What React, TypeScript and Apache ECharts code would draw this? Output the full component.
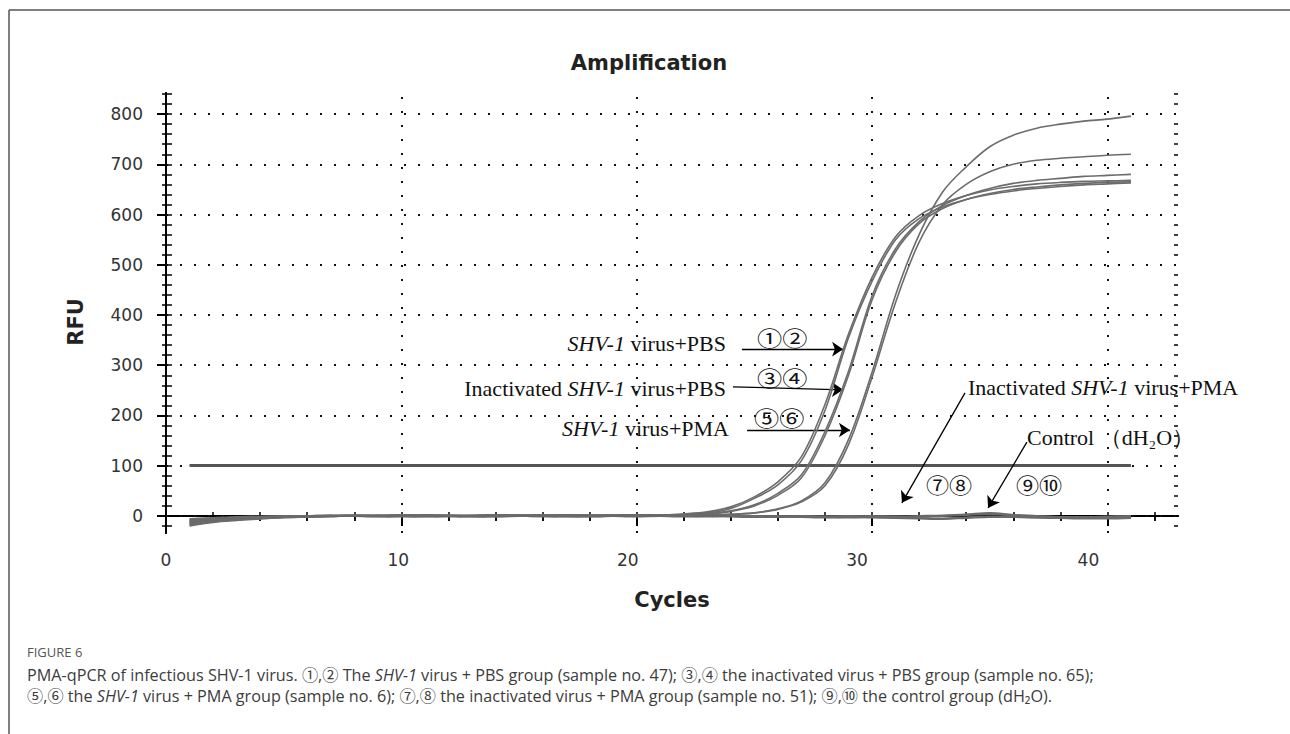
import { useEffect, useRef } from 'react';
import * as echarts from 'echarts';

// ---- data ----
const CYCLES = Array.from({ length: 41 }, (_, i) => i + 1);
const X_TICKS = [0, 10, 20, 30, 40];
const Y_TICKS = [0, 100, 200, 300, 400, 500, 600, 700, 800];
const X_MINOR = [2, 4, 6, 8, 12, 14, 16, 18, 22, 24, 26, 28, 32, 34, 36, 38, 42];
const X_ALL = [0, 2, 4, 6, 8, 10, 12, 14, 16, 18, 20, 22, 24, 26, 28, 30, 32, 34, 36, 38, 40, 42];
const Y_MINOR = [-20, 20, 40, 60, 80, 120, 140, 160, 180, 220, 240, 260, 280, 320, 340, 360, 380, 420, 440, 460, 480, 520, 540, 560, 580, 620, 640, 660, 680, 720, 740, 760, 780, 820, 840];
const Y_ALL = [-20, 0, 20, 40, 60, 80, 100, 120, 140, 160, 180, 200, 220, 240, 260, 280, 300, 320, 340, 360, 380, 400, 420, 440, 460, 480, 500, 520, 540, 560, 580, 600, 620, 640, 660, 680, 700, 720, 740, 760, 780, 800, 820, 840];
const THRESHOLD = 100;
const THRESHOLD_RANGE = [1, 41];

// amplification curves (RFU per cycle 1..41)
const S1 = [-18, -12, -8, -5, -3, -2, -1, 0, 1, 0, -1, 0, 1, 2, 0, -1, 0, 1, 2, 1, 2, 3, 6, 15, 35, 62, 110, 210, 355, 467, 550, 592, 615, 630, 640, 647, 652, 656, 659, 661, 663];
const S2 = [-14, -9, -6, -4, -2, -1, 0, 1, 0, 1, 0, -1, 0, 1, 2, 0, 1, 0, 1, 2, 2, 4, 8, 18, 38, 68, 118, 222, 362, 475, 556, 598, 622, 638, 649, 656, 661, 664, 666, 667, 668];
const S3 = [-20, -13, -9, -6, -3, -2, -1, 0, -1, 0, 1, 0, -1, 0, 1, 2, 0, -1, 0, 1, 1, 2, 4, 10, 22, 45, 82, 168, 288, 438, 532, 586, 618, 638, 652, 662, 668, 672, 676, 678, 680];
const S4 = [-10, -7, -5, -3, -2, -1, 0, 0, 1, 2, 0, 1, 0, -1, 0, 1, 2, 1, 0, 1, 2, 2, 4, 9, 20, 41, 76, 160, 280, 430, 526, 582, 612, 630, 642, 650, 655, 659, 662, 664, 665];
const S5 = [-16, -11, -7, -5, -3, -2, -1, 0, 0, 1, 0, -1, 0, 1, 0, -1, 0, 1, 1, 0, 1, 1, 2, 3, 6, 14, 30, 66, 152, 286, 440, 560, 645, 695, 735, 758, 772, 780, 786, 790, 796];
const S6 = [-12, -8, -5, -3, -2, -1, 0, 1, 0, 0, 1, 0, -1, 0, 1, 0, -1, 0, 1, 1, 0, 1, 2, 3, 6, 13, 28, 60, 142, 276, 425, 545, 620, 660, 685, 700, 708, 712, 715, 718, 720];
// non-amplifying curves
const S7 = [-15, -10, -6, -4, -2, -1, 0, 1, 0, -1, 0, 1, 0, -1, 0, 1, 0, -1, 0, 1, 0, -1, 0, -1, -2, -1, -2, -3, -2, -3, -4, -5, -6, -4, -2, -2, -3, -4, -5, -5, -4];
const S8 = [-11, -7, -5, -3, -1, 0, 1, 0, 1, 0, -1, 0, 1, 2, 1, 0, -1, 0, 1, 0, 1, 0, -1, 0, -1, -2, -1, -2, -3, -2, -3, -4, -5, -3, -1, -2, -3, -4, -4, -3, -3];
const S9 = [-8, -5, -3, -2, -1, 0, 0, 1, 0, 1, 2, 1, 0, 1, 0, 1, 2, 1, 0, 1, 0, 1, 0, 0, -1, 0, -1, -1, 0, -1, -1, 0, 1, 3, 6, 2, 0, -2, -3, -2, -1];
const S10 = [-6, -4, -2, -1, 0, 0, 1, 0, -1, 0, 1, 0, -1, 0, 1, 0, 0, 1, 0, -1, 0, 0, 1, 0, 0, -1, 0, -1, -1, 0, -1, -2, 0, 2, 4, 1, -1, -2, -2, -1, 0];
const AMP_SERIES = [S1, S2, S3, S4, S5, S6];
const FLAT_SERIES = [S7, S8, S9, S10];

// annotation arrows in data coordinates [cycle, RFU]
const ARROWS = [
  [[24.47, 332], [28.77, 332]],
  [[24.09, 257], [28.77, 251]],
  [[24.69, 171], [29.06, 171]],
  [[33.95, 245], [31.27, 26]],
  [[36.58, 147], [34.93, 16]],
];

const SERIF = "'Liberation Serif', 'DejaVu Serif', serif";
const CIRC = "'Noto Sans CJK SC', 'DejaVu Sans', sans-serif";
const SANS = "'DejaVu Sans', sans-serif";
const CAP = "'Open Sans', 'Noto Sans CJK SC', sans-serif";

function annText(x: number, y: number, text: string, align: string, font = SERIF, size = 22, scaleX = 1) {
  return {
    type: 'text',
    x,
    y,
    scaleX,
    silent: true,
    style: {
      text,
      fontFamily: font,
      fontSize: size,
      fill: '#111',
      align,
      textAlign: align,
      verticalAlign: 'middle',
      textVerticalAlign: 'middle',
      rich: {
        i: { fontStyle: 'italic', fontFamily: font, fontSize: size, fill: '#111' },
      },
    },
  };
}

function captionLine(y: number, text: string) {
  return {
    type: 'text', x: 27, y, silent: true,
    style: {
      text,
      fontFamily: CAP, fontSize: 16.2, lineHeight: 19, fill: '#3c3c3c',
      align: 'left', textAlign: 'left', verticalAlign: 'middle', textVerticalAlign: 'middle',
      rich: {
        i: { fontStyle: 'italic', fontFamily: CAP, fontSize: 16.2, lineHeight: 19, fill: '#3c3c3c' },
      },
    },
  };
}

// x tick labels sit slightly left of their ticks in the original
const X_LABEL_SHIFT: Record<string, number> = { '0': 0, '10': 3, '20': 9, '30': 15, '40': 19 };

export default function App() {
  const ref = useRef<HTMLDivElement>(null);
  useEffect(() => {
    if (!ref.current) return;
    const chart = echarts.init(ref.current, null, { renderer: 'svg' });
    const axisBlack = { color: '#000', width: 2 };
    const baseY = { type: 'value', min: -34, max: 842, splitLine: { show: false } };
    const baseX = { type: 'value', min: 0, max: 43, splitLine: { show: false } };

    const xRich: Record<string, any> = {};
    X_TICKS.forEach((v) => {
      xRich['s' + v] = {
        fontFamily: SANS,
        fontSize: 17,
        color: '#333',
        padding: [0, 2 * X_LABEL_SHIFT[String(v)], 0, 0],
      };
    });

    const series: any[] = [];
    AMP_SERIES.forEach((s, idx) => {
      series.push({
        type: 'line',
        name: 'amp' + (idx + 1),
        data: CYCLES.map((c, i) => [c, s[i]]),
        showSymbol: false,
        smooth: 0.35,
        lineStyle: { color: '#6c6c6c', width: 1.6 },
        xAxisIndex: 0,
        yAxisIndex: 0,
        z: 5,
      });
    });
    FLAT_SERIES.forEach((s, idx) => {
      series.push({
        type: 'line',
        name: 'flat' + (idx + 1),
        data: CYCLES.map((c, i) => [c, s[i]]),
        showSymbol: false,
        smooth: 0.35,
        lineStyle: { color: '#6a6a6a', width: 2 },
        xAxisIndex: 0,
        yAxisIndex: 0,
        z: 5,
      });
    });
    // grid dotted lines
    series[6].markLine = {
      silent: true,
      symbol: 'none',
      animation: false,
      label: { show: false },
      lineStyle: { type: [2, 12], color: '#111', width: 2 },
      data: [
        ...Y_TICKS.map((v) => ({ yAxis: v })),
        ...X_TICKS.filter((v) => v > 0).map((v) => ({ xAxis: v })),
      ],
      z: 1,
    };
    // threshold
    series[7].markLine = {
      silent: true,
      symbol: 'none',
      animation: false,
      label: { show: false },
      lineStyle: { type: 'solid', color: '#555', width: 3 },
      data: [[{ coord: [THRESHOLD_RANGE[0], THRESHOLD] }, { coord: [THRESHOLD_RANGE[1], THRESHOLD] }]],
    };
    // arrows
    series[8].markLine = {
      silent: true,
      symbol: ['none', 'arrow'],
      symbolSize: 11,
      animation: false,
      label: { show: false },
      lineStyle: { type: 'solid', color: '#000', width: 1.3 },
      data: ARROWS.map((a) => [{ coord: a[0] }, { coord: a[1] }]),
    };

    chart.setOption({
      animation: false,
      backgroundColor: '#fff',
      grid: { left: 166, top: 93, width: 1012, height: 440, containLabel: false },
      xAxis: [
        {
          ...baseX,
          position: 'bottom',
          axisLine: { show: true, lineStyle: axisBlack },
          axisTick: { show: true, customValues: X_TICKS, length: 10, lineStyle: axisBlack },
          axisLabel: {
            show: true,
            customValues: X_TICKS,
            margin: 18,
            formatter: (v: number) => `{s${v}|${v}}`,
            rich: xRich,
          },
        },
        {
          ...baseX,
          position: 'bottom',
          axisLine: { show: false },
          axisTick: { show: true, customValues: X_MINOR, length: 5, lineStyle: { color: '#000', width: 1.5 } },
          axisLabel: { show: false },
        },
        {
          ...baseX,
          position: 'bottom',
          axisLine: { show: false },
          axisTick: { show: true, inside: true, customValues: X_ALL, length: 4, lineStyle: { color: '#000', width: 1.5 } },
          axisLabel: { show: false },
        },
        {
          ...baseX,
          position: 'top',
          axisLine: { show: true, lineStyle: axisBlack },
          axisTick: { show: true, inside: true, customValues: X_ALL.filter((v) => v > 0), length: 5, lineStyle: { color: '#000', width: 1.5 } },
          axisLabel: { show: false },
        },
      ],
      yAxis: [
        {
          ...baseY,
          position: 'left',
          axisLine: { show: true, lineStyle: axisBlack },
          axisTick: { show: true, customValues: Y_TICKS, length: 9, lineStyle: axisBlack },
          axisLabel: { show: true, customValues: Y_TICKS, fontFamily: SANS, fontSize: 17, color: '#333', margin: 23 },
        },
        {
          ...baseY,
          position: 'left',
          axisLine: { show: false },
          axisTick: { show: true, customValues: Y_MINOR, length: 4, lineStyle: { color: '#000', width: 1.5 } },
          axisLabel: { show: false },
        },
        {
          ...baseY,
          position: 'left',
          axisLine: { show: false },
          axisTick: { show: true, inside: true, customValues: Y_ALL, length: 6, lineStyle: { color: '#000', width: 1.5 } },
          axisLabel: { show: false },
        },
        {
          ...baseY,
          position: 'right',
          axisLine: { show: true, lineStyle: axisBlack },
          axisTick: { show: true, inside: true, customValues: Y_TICKS, length: 9, lineStyle: axisBlack },
          axisLabel: { show: false },
        },
        {
          ...baseY,
          position: 'right',
          axisLine: { show: false },
          axisTick: { show: true, inside: true, customValues: Y_MINOR, length: 4, lineStyle: { color: '#000', width: 1.5 } },
          axisLabel: { show: false },
        },
      ],
      series,
      graphic: [
        // outer frame
        { type: 'line', silent: true, shape: { x1: 9, y1: 10, x2: 1290, y2: 10 }, style: { stroke: '#555', lineWidth: 1.5 } },
        { type: 'line', silent: true, shape: { x1: 9, y1: 10, x2: 9, y2: 734 }, style: { stroke: '#555', lineWidth: 1.5 } },
        // title and axis names
        {
          type: 'text', x: 649, y: 63, silent: true,
          style: { text: 'Amplification', fontFamily: SANS, fontWeight: 'bold', fontSize: 21, fill: '#222', align: 'center', textAlign: 'center', verticalAlign: 'middle', textVerticalAlign: 'middle' },
        },
        {
          type: 'text', x: 672, y: 600, silent: true,
          style: { text: 'Cycles', fontFamily: SANS, fontWeight: 'bold', fontSize: 21, fill: '#222', align: 'center', textAlign: 'center', verticalAlign: 'middle', textVerticalAlign: 'middle' },
        },
        {
          type: 'text', x: 76, y: 322, rotation: Math.PI / 2, silent: true,
          style: { text: 'RFU', fontFamily: SANS, fontWeight: 'bold', fontSize: 21, fill: '#222', align: 'center', textAlign: 'center', verticalAlign: 'middle', textVerticalAlign: 'middle' },
        },
        // annotations
        annText(726, 343, '{i|SHV-1} virus+PBS', 'right'),
        annText(726, 388, 'Inactivated {i|SHV-1} virus+PBS', 'right'),
        annText(729, 428, '{i|SHV-1} virus+PMA', 'right'),
        annText(968, 387, 'Inactivated {i|SHV-1} virus+PMA', 'left'),
        annText(1027, 437, 'Control （dH₂O）', 'left'),
        annText(757, 337, '①②', 'left', CIRC, 21, 1.2),
        annText(757, 377, '③④', 'left', CIRC, 21, 1.2),
        annText(754, 417, '⑤⑥', 'left', CIRC, 21, 1.2),
        annText(926, 483, '⑦⑧', 'left', CIRC, 21, 1.1),
        annText(1016, 483, '⑨⑩', 'left', CIRC, 21, 1.1),
        // caption
        {
          type: 'text', x: 27, y: 652, silent: true,
          style: { text: 'FIGURE 6', fontFamily: CAP, fontSize: 13, lineHeight: 16, fill: '#555', align: 'left', textAlign: 'left', verticalAlign: 'middle', textVerticalAlign: 'middle' },
        },
        captionLine(675, 'PMA-qPCR of infectious SHV-1 virus. ①,② The {i|SHV-1} virus + PBS group (sample no. 47); ③,④ the inactivated virus + PBS group (sample no. 65);'),
        captionLine(696, '⑤,⑥ the {i|SHV-1} virus + PMA group (sample no. 6); ⑦,⑧ the inactivated virus + PMA group (sample no. 51); ⑨,⑩ the control group (dH₂O).'),
      ],
    });
    return () => chart.dispose();
  }, []);
  return <div ref={ref} style={{ position: 'fixed', left: 0, top: 0, width: 1290, height: 734 }} />;
}
